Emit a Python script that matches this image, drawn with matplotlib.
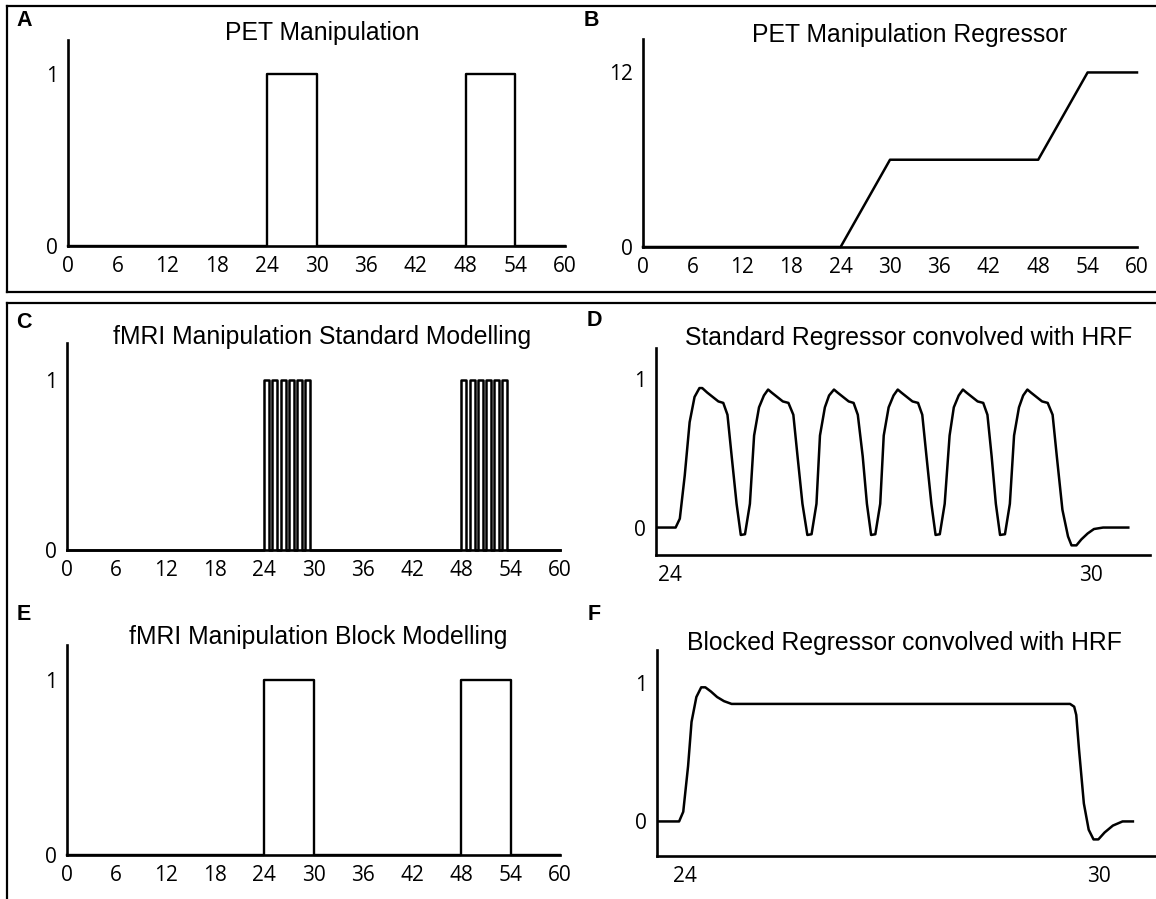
import matplotlib
matplotlib.use("Agg")
import matplotlib.pyplot as plt
from matplotlib.lines import Line2D

W, H = 1156, 899

# block design (seconds)
pet_onsets = [24, 48]
pet_duration = 6
fmri_onsets = [24, 25, 26, 27, 28, 29, 48, 49, 50, 51, 52, 53]
fmri_duration = 0.6
block_onsets = [24, 48]
block_duration = 6

# PET regressor (cumulative)
reg_t = [0, 24, 30, 48, 54, 60]
reg_v = [0, 0, 6, 6, 12, 12]

# standard regressor convolved with HRF (24-30 s window)
std_t = [23.79, 24.08, 24.14, 24.21, 24.28, 24.35, 24.42, 24.46, 24.53, 24.61, 24.69, 24.76, 24.82, 24.88, 24.95, 25.01, 25.07,
         25.14, 25.20, 25.27, 25.34, 25.40, 25.45, 25.53, 25.61, 25.69, 25.76, 25.82, 25.89, 25.96, 26.02,
         26.09, 26.14, 26.21, 26.27, 26.34, 26.39, 26.47, 26.55, 26.62, 26.68, 26.75, 26.81, 26.87, 26.93,
         27.00, 27.05, 27.12, 27.19, 27.25, 27.30, 27.38, 27.46, 27.54, 27.60, 27.66, 27.73, 27.79, 27.85,
         27.92, 27.99, 28.05, 28.12, 28.18, 28.23, 28.31, 28.39, 28.47, 28.53, 28.59, 28.65, 28.71, 28.78,
         28.85, 28.91, 28.98, 29.04, 29.10, 29.15, 29.23, 29.31, 29.39, 29.46, 29.52, 29.60, 29.68, 29.73,
         29.80, 29.87, 29.96, 30.05, 30.18, 30.54]
std_v = [0, 0, 0.06, 0.35, 0.71, 0.88, 0.94, 0.94, 0.91, 0.88, 0.85, 0.84, 0.76, 0.48, 0.16, -0.05, -0.045,
         0.16, 0.62, 0.81, 0.89, 0.93, 0.91, 0.88, 0.85, 0.84, 0.76, 0.48, 0.16, -0.05, -0.045,
         0.16, 0.62, 0.81, 0.89, 0.93, 0.91, 0.88, 0.85, 0.84, 0.76, 0.48, 0.16, -0.05, -0.045,
         0.16, 0.62, 0.81, 0.89, 0.93, 0.91, 0.88, 0.85, 0.84, 0.76, 0.48, 0.16, -0.05, -0.045,
         0.16, 0.62, 0.81, 0.89, 0.93, 0.91, 0.88, 0.85, 0.84, 0.76, 0.48, 0.16, -0.05, -0.045,
         0.16, 0.62, 0.81, 0.89, 0.93, 0.91, 0.88, 0.85, 0.84, 0.76, 0.48, 0.12, -0.06, -0.12,
         -0.12, -0.08, -0.04, -0.01, 0, 0]

# blocked regressor convolved with HRF
blk_t = [23.61, 23.92, 23.98, 24.05, 24.10, 24.17, 24.24, 24.30, 24.38, 24.47, 24.57, 24.68, 29.58, 29.64,
         29.67, 29.71, 29.78, 29.85, 29.92, 29.99, 30.08, 30.20, 30.34, 30.49]
blk_v = [0, 0, 0.07, 0.40, 0.72, 0.90, 0.97, 0.97, 0.94, 0.90, 0.87, 0.85, 0.85, 0.83,
         0.77, 0.52, 0.13, -0.06, -0.13, -0.13, -0.08, -0.03, 0, 0]

xticks_full = [0, 6, 12, 18, 24, 30, 36, 42, 48, 54, 60]

TICK_FONT = "Open Sans"
TITLE_FONT = "Liberation Sans"
TICK_SIZE = 15


def steps(onsets, dur, end=60):
    xs, ys = [0], [0]
    for o in onsets:
        xs += [o, o, o + dur, o + dur]
        ys += [0, 1, 1, 0]
    xs.append(end)
    ys.append(0)
    return xs, ys


def make_ax(fig, left, right, top, bottom):
    ax = fig.add_axes([left / W, 1 - bottom / H, (right - left) / W, (bottom - top) / H])
    for s in ["top", "right"]:
        ax.spines[s].set_visible(False)
    for s in ["left", "bottom"]:
        ax.spines[s].set_linewidth(1.9)
    ax.tick_params(length=0, labelsize=TICK_SIZE, pad=7)
    return ax


def style_ticks(ax):
    for lab in ax.get_xticklabels() + ax.get_yticklabels():
        lab.set_fontfamily(TICK_FONT)
        lab.set_fontsize(TICK_SIZE)


fig = plt.figure(figsize=(W / 100, H / 100), dpi=100)

# A
ax = make_ax(fig, 68, 565, 40, 246)
x, y = steps(pet_onsets, pet_duration)
ax.plot(x, y, color="black", lw=1.7, clip_on=False)
ax.set_xlim(0, 60)
ax.set_ylim(0, 1.2)
ax.set_xticks(xticks_full)
ax.set_yticks([0, 1])
style_ticks(ax)

# B
ax = make_ax(fig, 643, 1137, 39, 247)
ax.plot(reg_t, reg_v, color="black", lw=1.8, clip_on=False)
ax.set_xlim(0, 60)
ax.set_ylim(0, 14.3)
ax.set_xticks(xticks_full)
ax.set_yticks([0, 12])
style_ticks(ax)

# C
ax = make_ax(fig, 67, 560, 343, 550)
x, y = steps(fmri_onsets, fmri_duration)
ax.plot(x, y, color="black", lw=1.8, clip_on=False)
ax.set_xlim(0, 60)
ax.set_ylim(0, 1.22)
ax.set_xticks(xticks_full)
ax.set_yticks([0, 1])
style_ticks(ax)

# D
ax = make_ax(fig, 656, 1150, 348, 555)
ax.plot(std_t, std_v, color="black", lw=1.8)
ax.set_xlim(23.8, 30.85)
ax.set_ylim(-0.185, 1.21)
ax.set_xticks([24, 30])
ax.set_yticks([0, 1])
style_ticks(ax)

# E
ax = make_ax(fig, 67, 560, 645, 855)
x, y = steps(block_onsets, block_duration)
ax.plot(x, y, color="black", lw=1.7, clip_on=False)
ax.set_xlim(0, 60)
ax.set_ylim(0, 1.2)
ax.set_xticks(xticks_full)
ax.set_yticks([0, 1])
style_ticks(ax)

# F
ax = make_ax(fig, 657, 1155, 650, 856)
ax.plot(blk_t, blk_v, color="black", lw=1.8)
ax.set_xlim(23.6, 30.81)
ax.set_ylim(-0.25, 1.24)
ax.set_xticks([24, 30])
ax.set_yticks([0, 1])
style_ticks(ax)

# titles and panel letters
titles = [("PET Manipulation", 322, 33), ("PET Manipulation Regressor", 910, 35),
          ("fMRI Manipulation Standard Modelling", 322, 337), ("Standard Regressor convolved with HRF", 909, 338),
          ("fMRI Manipulation Block Modelling", 318, 637), ("Blocked Regressor convolved with HRF", 904, 643)]
for t, cx, cy in titles:
    fig.text(cx / W, 1 - cy / H, t, ha="center", va="center", fontsize=17.8, family=TITLE_FONT)

letters = [("A", 24, 21), ("B", 591, 20), ("C", 24, 322), ("D", 594, 320), ("E", 24, 615), ("F", 594, 615)]
for t, cx, cy in letters:
    fig.text(cx / W, 1 - cy / H, t, ha="center", va="center", fontsize=15.5, fontweight="bold", family=TITLE_FONT)


# panel frames
def fline(x0, y0, x1, y1):
    fig.add_artist(Line2D([x0 / W, x1 / W], [1 - y0 / H, 1 - y1 / H], color="black", lw=1.6,
                          transform=fig.transFigure))


fline(7, 6, W, 6)
fline(7, 6, 7, 292)
fline(7, 292, W, 292)
fline(7, 303, W, 303)
fline(7, 303, 7, H)

fig.savefig("out.png", dpi=100)
